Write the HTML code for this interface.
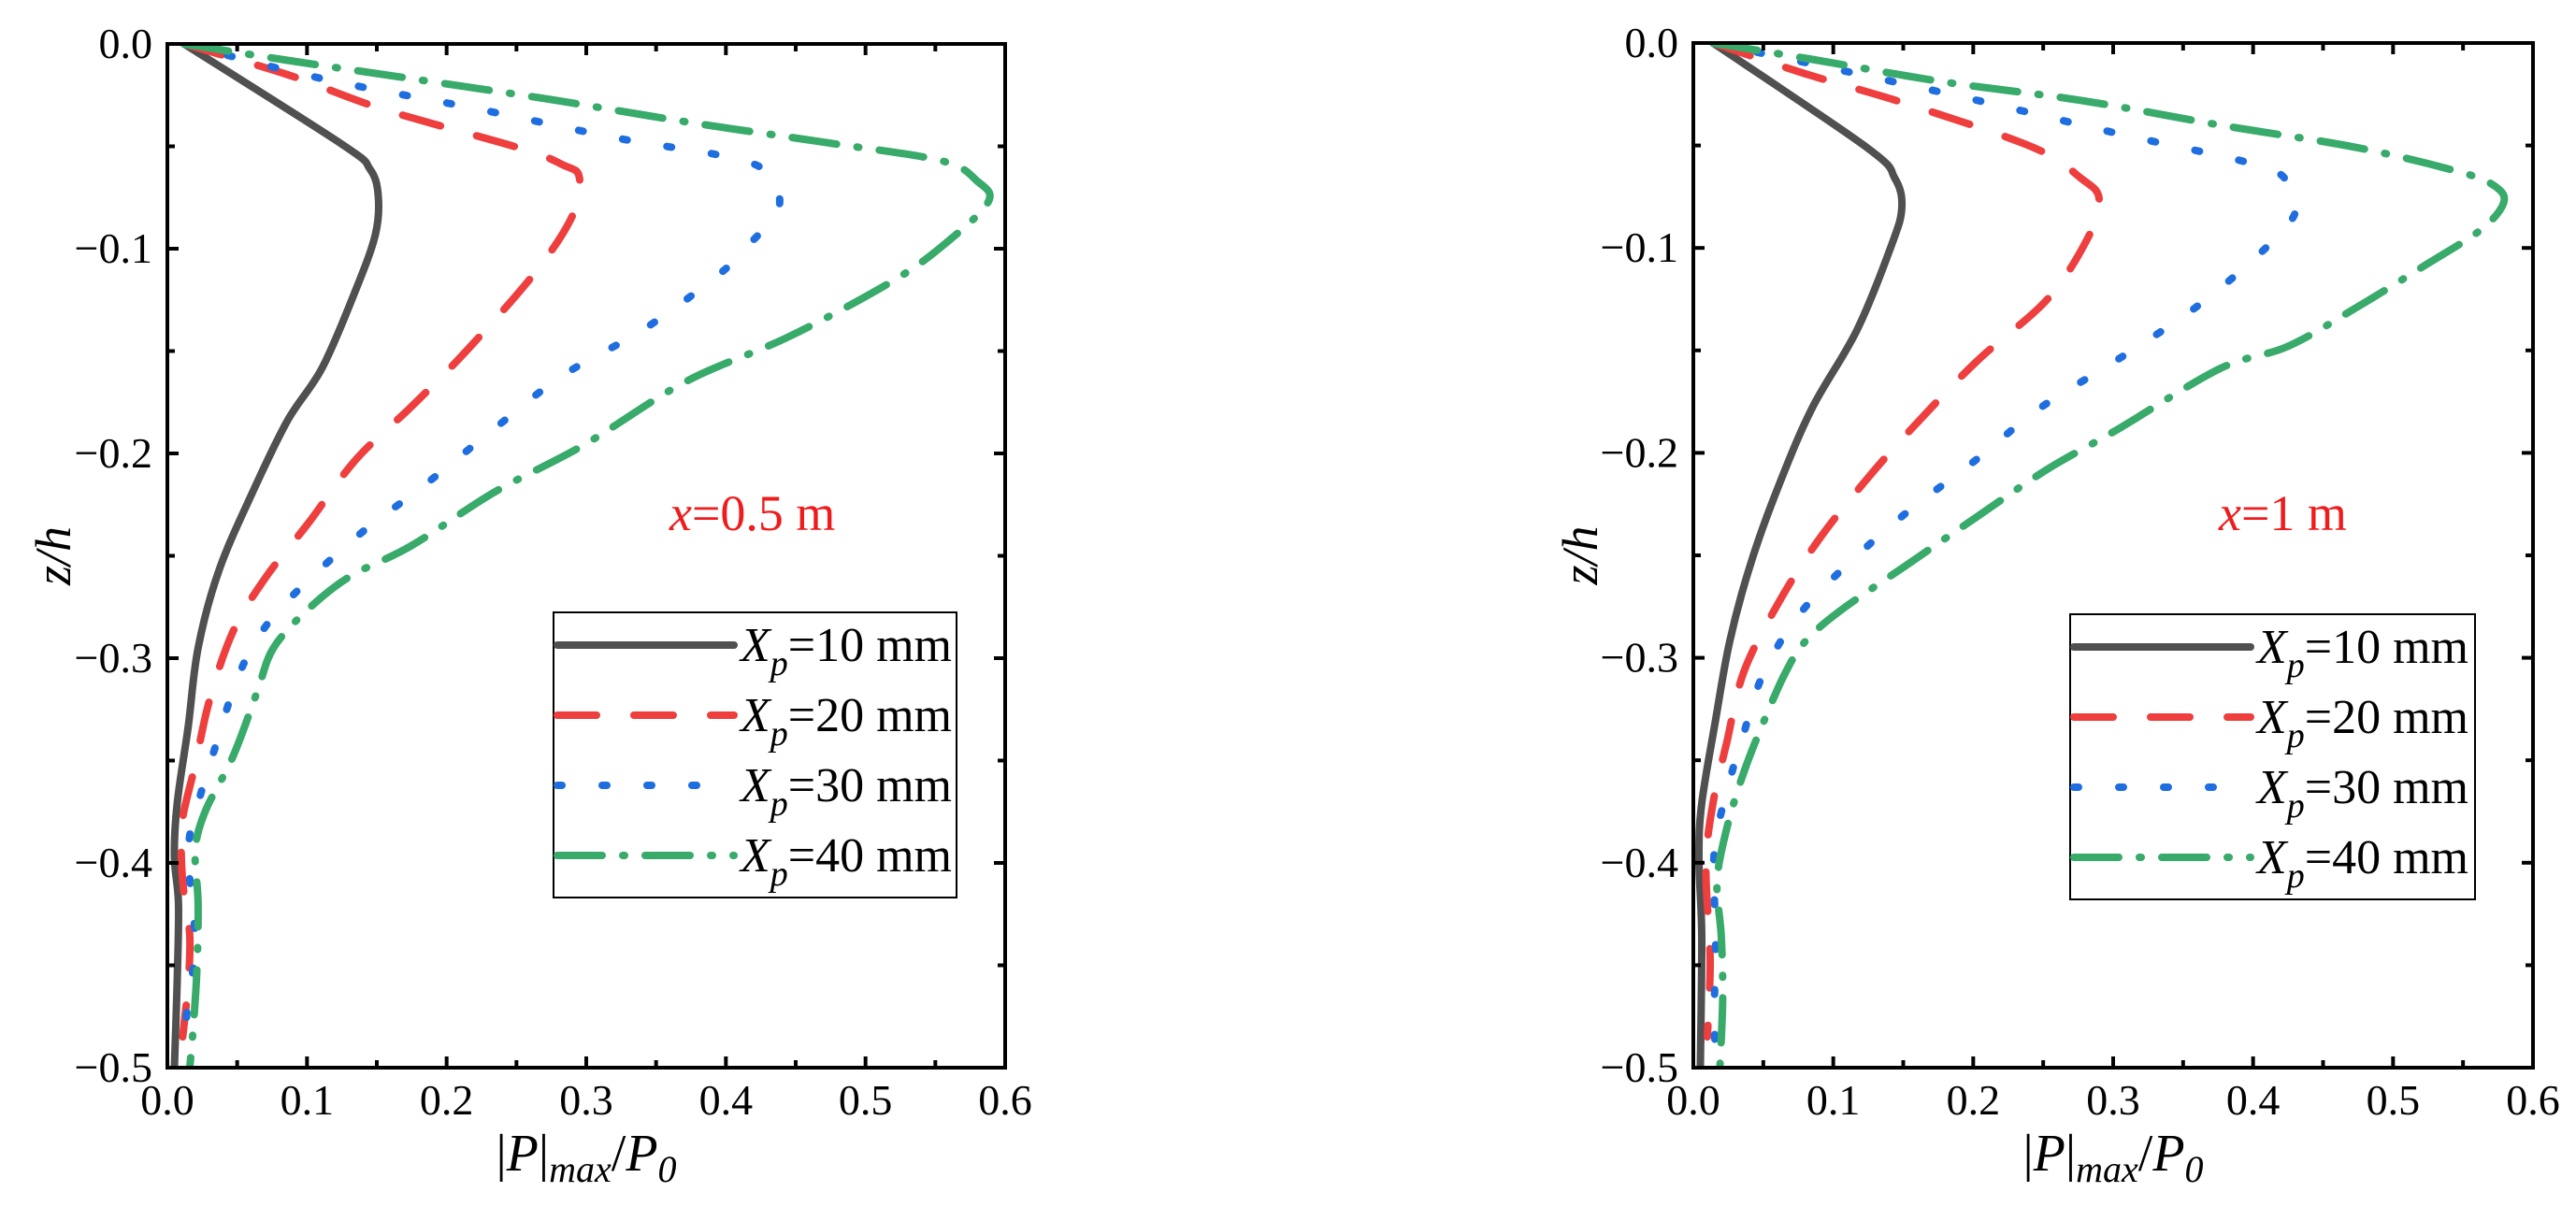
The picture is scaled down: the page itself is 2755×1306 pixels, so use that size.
<!DOCTYPE html>
<html><head><meta charset="utf-8"><style>
html,body{margin:0;padding:0;background:#fff;}
svg{display:block;font-family:"Liberation Serif",serif;}
</style></head><body>
<svg id="fig" width="2755" height="1306" viewBox="0 0 2755 1306"></svg>
<script>
const seriesLabels = ["10","20","30","40"];
const xTicks = [0,0.1,0.2,0.3,0.4,0.5,0.6];
const yTicks = [0,-0.1,-0.2,-0.3,-0.4,-0.5];
// left panel x=0.5 m : [value, z/h]
const a10 = [[0.012,0],[0.125,-0.049],[0.145,-0.061],[0.151,-0.074],[0.149,-0.093],[0.135,-0.12],[0.111,-0.158],[0.086,-0.184],[0.061,-0.219],[0.037,-0.257],[0.022,-0.295],[0.015,-0.333],[0.007,-0.371],[0.005,-0.397],[0.008,-0.42],[0.007,-0.458],[0.005,-0.5]];
const a20 = [[0.012,0],[0.086,-0.015],[0.155,-0.032],[0.253,-0.051],[0.283,-0.059],[0.295,-0.065],[0.29,-0.084],[0.263,-0.112],[0.214,-0.15],[0.175,-0.177],[0.135,-0.203],[0.101,-0.234],[0.071,-0.26],[0.047,-0.287],[0.03,-0.321],[0.02,-0.352],[0.011,-0.378],[0.01,-0.397],[0.012,-0.416],[0.016,-0.435],[0.015,-0.458],[0.011,-0.485]];
const a30 = [[0.012,0],[0.111,-0.017],[0.224,-0.032],[0.322,-0.046],[0.4,-0.055],[0.43,-0.063],[0.438,-0.08],[0.418,-0.097],[0.396,-0.112],[0.342,-0.139],[0.283,-0.162],[0.234,-0.188],[0.185,-0.215],[0.135,-0.241],[0.086,-0.272],[0.064,-0.291],[0.049,-0.312],[0.034,-0.344],[0.022,-0.371],[0.015,-0.395],[0.02,-0.439],[0.015,-0.466],[0.012,-0.489]];
const a40 = [[0.012,0],[0.086,-0.008],[0.175,-0.017],[0.273,-0.027],[0.371,-0.038],[0.47,-0.048],[0.554,-0.057],[0.58,-0.067],[0.588,-0.077],[0.558,-0.097],[0.519,-0.116],[0.445,-0.143],[0.371,-0.165],[0.298,-0.196],[0.234,-0.219],[0.175,-0.245],[0.131,-0.26],[0.101,-0.276],[0.076,-0.295],[0.064,-0.317],[0.047,-0.348],[0.027,-0.375],[0.02,-0.394],[0.022,-0.42],[0.021,-0.454],[0.018,-0.485],[0.016,-0.5]];
// right panel x=1 m
const b10 = [[0.014,0],[0.124,-0.051],[0.144,-0.066],[0.149,-0.08],[0.142,-0.098],[0.117,-0.14],[0.085,-0.178],[0.061,-0.216],[0.041,-0.254],[0.026,-0.292],[0.016,-0.33],[0.006,-0.371],[0.004,-0.398],[0.006,-0.436],[0.005,-0.5]];
const b20 = [[0.014,0],[0.08,-0.015],[0.154,-0.03],[0.243,-0.051],[0.277,-0.066],[0.29,-0.076],[0.282,-0.095],[0.253,-0.125],[0.203,-0.155],[0.159,-0.186],[0.125,-0.212],[0.09,-0.242],[0.061,-0.273],[0.036,-0.307],[0.024,-0.341],[0.014,-0.371],[0.009,-0.402],[0.012,-0.447],[0.01,-0.485]];
const b30 = [[0.014,0],[0.09,-0.011],[0.203,-0.028],[0.302,-0.044],[0.4,-0.059],[0.425,-0.068],[0.43,-0.083],[0.406,-0.102],[0.359,-0.129],[0.302,-0.155],[0.248,-0.178],[0.199,-0.205],[0.149,-0.231],[0.1,-0.261],[0.07,-0.284],[0.048,-0.311],[0.036,-0.337],[0.026,-0.36],[0.015,-0.394],[0.016,-0.436],[0.015,-0.473],[0.016,-0.5]];
const b40 = [[0.014,0],[0.085,-0.008],[0.179,-0.019],[0.277,-0.028],[0.376,-0.04],[0.474,-0.051],[0.548,-0.063],[0.573,-0.07],[0.579,-0.078],[0.563,-0.091],[0.524,-0.108],[0.474,-0.129],[0.425,-0.148],[0.376,-0.159],[0.302,-0.189],[0.253,-0.208],[0.203,-0.231],[0.154,-0.254],[0.105,-0.277],[0.08,-0.292],[0.066,-0.307],[0.051,-0.33],[0.036,-0.356],[0.024,-0.383],[0.017,-0.409],[0.02,-0.436],[0.021,-0.466],[0.019,-0.5]];

const NS="http://www.w3.org/2000/svg";
const svg=document.getElementById('fig');
const colors=["#505050","#ee3e3e","#1f6ee0","#38aa6a"];
const dashes=["none","42 40","5 43","48 22 2 22"];
function mk(tag,attrs,parent){const e=document.createElementNS(NS,tag);for(const k in attrs)e.setAttribute(k,attrs[k]);(parent||svg).appendChild(e);return e;}
function smooth(pts){
  let d='M'+pts[0][0].toFixed(1)+','+pts[0][1].toFixed(1);
  for(let i=0;i<pts.length-1;i++){
    const p0=pts[Math.max(0,i-1)],p1=pts[i],p2=pts[i+1],p3=pts[Math.min(pts.length-1,i+2)];
    const c1=[p1[0]+(p2[0]-p0[0])/6,p1[1]+(p2[1]-p0[1])/6];
    const c2=[p2[0]-(p3[0]-p1[0])/6,p2[1]-(p3[1]-p1[1])/6];
    d+=' C'+c1[0].toFixed(1)+','+c1[1].toFixed(1)+' '+c2[0].toFixed(1)+','+c2[1].toFixed(1)+' '+p2[0].toFixed(1)+','+p2[1].toFixed(1);
  }
  return d;
}

function panel(id,L,R,T,B,data,note,noteX,leg,zx){
  const g=mk('g',{});
  
  
  const sx=v=>L+(v-0)/0.6*(R-L);
  const sy=v=>T+(0-v)/0.5*(B-T);
  const cp=mk('clipPath',{id:id+'-clip'},g);
  mk('rect',{x:L,y:T,width:R-L,height:B-T},cp);
  data.forEach((d,i)=>{
    const p=mk('path',{d:smooth(d.map(q=>[sx(q[0]),sy(q[1])])),fill:'none',stroke:colors[i],'stroke-width':8,'stroke-linejoin':'round','stroke-linecap':'round','stroke-dasharray':dashes[i],'clip-path':'url(#'+id+'-clip)'},g);
    
    
  });
  const fr=mk('rect',{x:L,y:T,width:R-L,height:B-T,fill:'none',stroke:'#000','stroke-width':4},g);
  
  
  for(let k=0;k<=12;k++){
    const v=k*0.05, x=sx(v), len=(k%2==0)?12:8;
    mk('line',{x1:x,y1:B,x2:x,y2:B-len,stroke:'#000','stroke-width':4},g);
    mk('line',{x1:x,y1:T,x2:x,y2:T+len,stroke:'#000','stroke-width':4},g);
  }
  xTicks.forEach(v=>{
    const t=mk('text',{x:sx(v),y:B+50,'font-size':46,'text-anchor':'middle'},g);
    t.textContent=v.toFixed(1);
    
    
  });
  for(let k=0;k<=10;k++){
    const v=-k*0.05, y=sy(v), len=(k%2==0)?12:8;
    mk('line',{x1:L,y1:y,x2:L+len,y2:y,stroke:'#000','stroke-width':4},g);
    mk('line',{x1:R,y1:y,x2:R-len,y2:y,stroke:'#000','stroke-width':4},g);
  }
  yTicks.forEach(v=>{
    const t=mk('text',{x:L-16,y:sy(v)+15,'font-size':46,'text-anchor':'end'},g);
    t.textContent=(v<0?'\u2212':'')+Math.abs(v).toFixed(1);
    
    
  });
  const yt=mk('text',{x:0,y:0,'font-size':54,'font-style':'italic','text-anchor':'middle',transform:'translate('+(zx+16)+','+((T+B)/2)+') rotate(-90)'},g);
  yt.textContent='z/h';
  
  
  const xt=mk('text',{x:(L+R)/2,y:B+110,'font-size':56,'text-anchor':'middle'},g);
  xt.innerHTML='|<tspan font-style="italic">P</tspan>|<tspan font-style="italic" font-size="40" dy="12">max</tspan><tspan dy="-12">/</tspan><tspan font-style="italic">P</tspan><tspan font-style="italic" font-size="40" dy="12">0</tspan>';
  
  
  const nt=mk('text',{x:noteX,y:567,'font-size':54,fill:'#ee1c1c'},g);
  nt.innerHTML='<tspan font-style="italic">x</tspan>='+note;
  
  
  const lg=mk('g',{},g);
  
  
  mk('rect',{x:leg[0],y:leg[1],width:leg[2]-leg[0],height:leg[3]-leg[1],fill:'#fff',stroke:'#000','stroke-width':2},lg);
  for(let i=0;i<4;i++){
    const ry=leg[1]+35+i*75;
    const e=mk('g',{},lg);
    
    
    mk('line',{x1:leg[0]+4,y1:ry,x2:leg[0]+193,y2:ry,stroke:colors[i],'stroke-width':8,'stroke-linecap':'round','stroke-dasharray':dashes[i]},e);
    const t=mk('text',{x:leg[0]+200,y:ry+17,'font-size':52},e);
    t.innerHTML='<tspan font-style="italic">X</tspan><tspan font-style="italic" font-size="38" dy="15">p</tspan><tspan dy="-15">='+seriesLabels[i]+' mm</tspan>';
  }
}
panel('panel-x-0-5',179,1075,47,1142,[a10,a20,a30,a40],'0.5 m',716,[592,655,1023,960],59);
panel('panel-x-1',1811,2709,46,1142,[b10,b20,b30,b40],'1 m',2373,[2214,657,2647,962],1692);
</script>
</body></html>
